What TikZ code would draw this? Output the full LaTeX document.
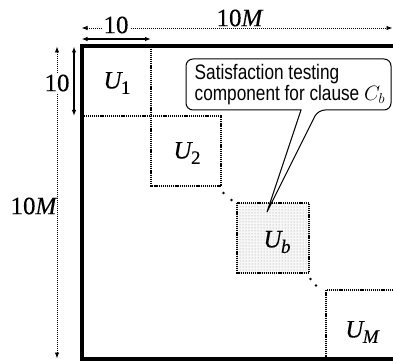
\documentclass[tikz,border=0pt]{standalone}
\usepackage{fontspec}
\newfontfamily\callfont[FakeStretch=0.82]{Liberation Sans}
\newfontfamily\labfont[FakeBold=0.3]{Liberation Serif}
\usetikzlibrary{arrows.meta,patterns}
\newcommand\ulab[1]{{\itshape U}\kern-0.5pt\raisebox{-5.5pt}{\fontsize{19}{19}\selectfont #1}}
\begin{document}
\begin{tikzpicture}[x=1pt,y=-1pt,
  frame/.style={line width=4pt},
  blk/.style={line width=2.6pt, dash pattern=on 1.2pt off 0.9pt, black},
  dim/.style={line width=0.9pt, dash pattern=on 1pt off 1pt, {Latex[length=6pt,width=4.5pt]}-{Latex[length=6pt,width=4.5pt]}},
  sdim/.style={line width=1.1pt, {Latex[length=6pt,width=4.5pt]}-{Latex[length=6pt,width=4.5pt]}},
  lbl/.style={font=\labfont\fontsize{25}{28}\selectfont, inner sep=1pt},
  dot/.style={circle, fill=black, inner sep=0pt, minimum size=2.6pt},
  callout/.style={line width=1pt, rounded corners=7pt},
  calltext/.style={anchor=base west, align=left, inner sep=0pt, font=\callfont\fontsize{21}{17.7}\selectfont}
]
\useasboundingbox (0,0) rectangle (393,363);
% frame corners
\coordinate (ftr) at (393,46.5);
\coordinate (ftl) at (81.5,46.5);
\coordinate (fbl) at (81.5,359);
\coordinate (fbr) at (393,359);
% block corners
\coordinate (a1) at (151,46.5);
\coordinate (a2) at (151,186);
\coordinate (a3) at (221,186);
\coordinate (a4) at (221,116);
\coordinate (a5) at (81.5,116);
\coordinate (b1) at (237,203);
\coordinate (b2) at (309,273);
\coordinate (m1) at (393,290);
\coordinate (m2) at (326,290);
\coordinate (m3) at (326,359);
% U_b shading
\fill[black!3] (b1) rectangle (b2);
\fill[pattern=dots, pattern color=black!40] (b1) rectangle (b2);
% block borders
\draw[blk] (a1) -- (a2) -- (a3) -- (a4) -- (a5);
\draw[blk] (b1) rectangle (b2);
\draw[blk] (m1) -- (m2) -- (m3);
% diagonal dots
\node[dot] (d1) at (223.5,193) {};
\node[dot] (d2) at (231.5,200) {};
\node[dot] (d3) at (310.5,279) {};
\node[dot] (d4) at (316,285.5) {};
% frame
\draw[frame] (ftr) -- (ftl) -- (fbl) -- (fbr);
% dimension lines
\coordinate (tl) at (81.5,28);
\coordinate (tr) at (392.5,28);
\draw[dim] (tl) -- (tr);
\node[lbl, fill=white, inner sep=2pt] (t10) at (116,25) {10};
\node[lbl] (t10M) at (240,18) {10\textit{M}};
\coordinate (sl) at (81.5,39);
\coordinate (sr) at (151,39);
\draw[sdim] (sl) -- (sr);
\coordinate (lt) at (57,46.5);
\coordinate (lb) at (57,358.5);
\draw[dim] (lt) -- (lb);
\node[lbl, fill=white, inner sep=2pt] (l10) at (57,83) {10};
\node[lbl] (l10M) at (34,206) {10\textit{M}};
\coordinate (vt) at (74,46.5);
\coordinate (vb) at (74,116);
\draw[sdim] (vt) -- (vb);
% block labels
\node[lbl] (u1) at (117,83) {\ulab{1}};
\node[lbl] (u2) at (187,153) {\ulab{2}};
\node[lbl] (ub) at (277,242) {\ulab{\itshape b}};
\node[lbl] (um) at (362,332) {\ulab{\itshape M}};
% callout
\coordinate (p1) at (301,110);
\coordinate (p2) at (318,110);
\coordinate (tip) at (267,212);
\draw[callout] (p1) -- (186,110) -- (186,59) -- (391,59) -- (391,110) -- (p2) [sharp corners] -- (tip) -- cycle;
\node[calltext] (ct) at (194.5,100.5) {Satisfaction testing\\component for clause $C_b$};
\end{tikzpicture}
\end{document}
